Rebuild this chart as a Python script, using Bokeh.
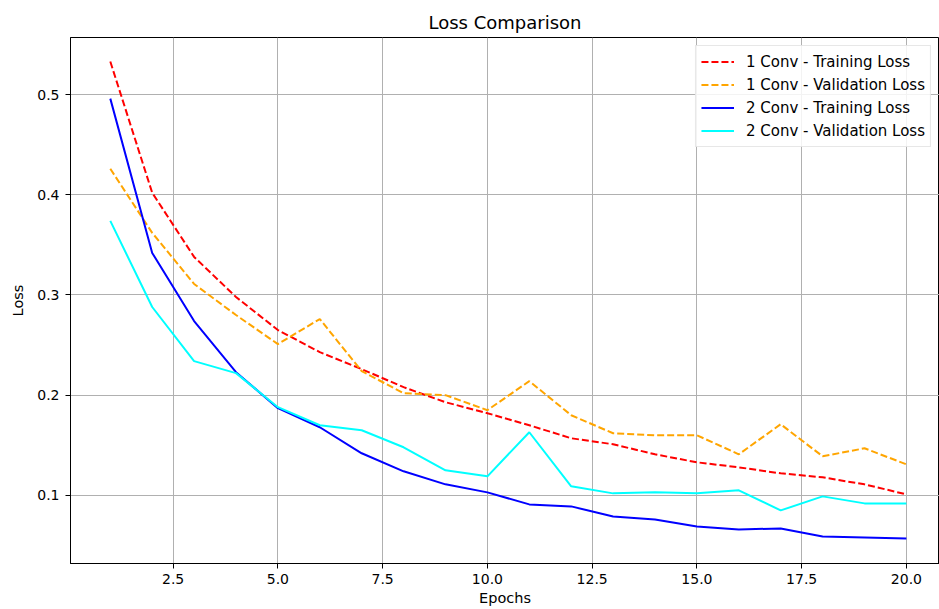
from bokeh.plotting import figure
from bokeh.models import Range1d, FixedTicker, NumeralTickFormatter, Legend, LegendItem
from bokeh.embed import file_html
from bokeh.resources import INLINE

epochs = list(range(1, 21))
conv1_train = [0.533, 0.402, 0.338, 0.298, 0.265, 0.243, 0.226, 0.208, 0.193, 0.182,
               0.170, 0.157, 0.151, 0.141, 0.133, 0.128, 0.122, 0.118, 0.111, 0.101]
conv1_val = [0.426, 0.362, 0.311, 0.280, 0.251, 0.276, 0.224, 0.202, 0.200, 0.185,
             0.214, 0.180, 0.162, 0.160, 0.160, 0.141, 0.171, 0.139, 0.147, 0.131]
conv2_train = [0.496, 0.342, 0.274, 0.223, 0.187, 0.168, 0.142, 0.124, 0.111, 0.103,
               0.091, 0.089, 0.079, 0.076, 0.069, 0.066, 0.067, 0.059, 0.058, 0.057]
conv2_val = [0.374, 0.288, 0.234, 0.222, 0.188, 0.170, 0.165, 0.148, 0.125, 0.119,
             0.163, 0.109, 0.102, 0.103, 0.102, 0.105, 0.085, 0.099, 0.092, 0.092]
x_ticks = [2.5, 5.0, 7.5, 10.0, 12.5, 15.0, 17.5, 20.0]
y_ticks = [0.1, 0.2, 0.3, 0.4, 0.5]

FONT = "DejaVu Sans"

p = figure(width=939, height=609, output_backend="svg", toolbar_location=None,
           x_range=Range1d(0.05, 20.79), y_range=Range1d(0.032, 0.557),
           min_border_left=70, min_border_right=0, min_border_top=37, min_border_bottom=46)

p.title.text = "Loss Comparison"
p.title.align = "center"
p.title.text_font = FONT
p.title.text_font_size = "18px"
p.title.text_font_style = "normal"
p.title.text_color = "black"
p.title.standoff = 9

p.outline_line_color = "black"
p.outline_line_width = 1
p.background_fill_color = "white"
p.border_fill_color = "white"

for ax in (p.xaxis[0], p.yaxis[0]):
    ax.major_label_text_font = FONT
    ax.major_label_text_font_size = "14px"
    ax.major_label_text_color = "black"
    ax.axis_label_text_font = FONT
    ax.axis_label_text_font_size = "14.5px"
    ax.axis_label_text_font_style = "normal"
    ax.axis_label_text_color = "black"
    ax.minor_tick_line_color = None
    ax.major_tick_out = 5
    ax.major_tick_in = 0
    ax.major_tick_line_color = "black"
    ax.axis_line_color = "black"

p.xaxis.ticker = FixedTicker(ticks=x_ticks)
p.yaxis.ticker = FixedTicker(ticks=y_ticks)
p.xaxis.formatter = NumeralTickFormatter(format="0.0")
p.yaxis.formatter = NumeralTickFormatter(format="0.0")
p.xaxis.axis_label = "Epochs"
p.yaxis.axis_label = "Loss"
p.xaxis.major_label_standoff = 5
p.xaxis.axis_label_standoff = 3
p.yaxis.major_label_standoff = 6
p.yaxis.axis_label_standoff = 8

p.grid.grid_line_color = "#b0b0b0"
p.grid.grid_line_width = 1

r1 = p.line(epochs, conv1_train, line_color="red", line_width=2, line_dash="7 3")
r2 = p.line(epochs, conv1_val, line_color="orange", line_width=2, line_dash="7 3")
r3 = p.line(epochs, conv2_train, line_color="blue", line_width=2)
r4 = p.line(epochs, conv2_val, line_color="cyan", line_width=2)

legend = Legend(items=[
    LegendItem(label="1 Conv - Training Loss", renderers=[r1]),
    LegendItem(label="1 Conv - Validation Loss", renderers=[r2]),
    LegendItem(label="2 Conv - Training Loss", renderers=[r3]),
    LegendItem(label="2 Conv - Validation Loss", renderers=[r4]),
], location="top_right")
legend.label_text_font = FONT
legend.label_text_font_size = "15px"
legend.label_text_color = "black"
legend.glyph_width = 33
legend.glyph_height = 21
legend.label_height = 21
legend.spacing = 2
legend.padding = 5
legend.margin = 8
legend.label_standoff = 12
legend.border_line_color = "#d0d0d0"
legend.border_line_width = 1
legend.background_fill_alpha = 0.85
p.add_layout(legend)

open("out.html", "w").write(file_html(p, INLINE))
